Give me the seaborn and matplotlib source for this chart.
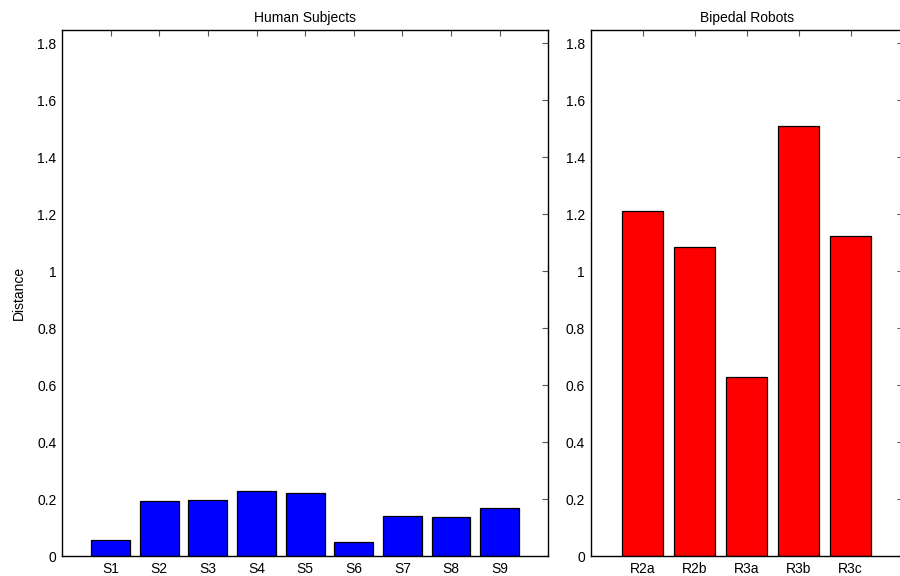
import numpy as np
import pandas as pd
import seaborn as sns
import matplotlib
matplotlib.use("Agg")
import matplotlib.pyplot as plt
from matplotlib.ticker import FuncFormatter

# data
humans = ["S1", "S2", "S3", "S4", "S5", "S6", "S7", "S8", "S9"]
human_dist = [0.056, 0.193, 0.196, 0.230, 0.222, 0.048, 0.141, 0.137, 0.167]

robots = ["R2a", "R2b", "R3a", "R3b", "R3c"]
robot_dist = [1.212, 1.084, 0.630, 1.510, 1.122]

yticks = [0, 0.2, 0.4, 0.6, 0.8, 1.0, 1.2, 1.4, 1.6, 1.8]

sns.set_style("white")
plt.rcParams['font.family'] = ['Liberation Sans', 'DejaVu Sans']
plt.rcParams['font.size'] = 10
plt.rcParams['text.color'] = 'black'
plt.rcParams['axes.labelcolor'] = 'black'
plt.rcParams['xtick.labelcolor'] = 'black'
plt.rcParams['ytick.labelcolor'] = 'black'

fig = plt.figure(figsize=(9, 5.76), dpi=100)
ax1 = fig.add_axes([0.0689, 0.0347, 0.5403, 0.9127])
ax2 = fig.add_axes([0.6563, 0.0347, 0.3467, 0.9127])

df1 = pd.DataFrame({"name": humans, "dist": human_dist})
df2 = pd.DataFrame({"name": robots, "dist": robot_dist})

sns.barplot(data=df1, x="name", y="dist", order=humans, color="#0000ff",
            saturation=1, edgecolor="black", linewidth=0.9, width=0.8, ax=ax1)
sns.barplot(data=df2, x="name", y="dist", order=robots, color="#ff0000",
            saturation=1, edgecolor="black", linewidth=0.9, width=0.8, ax=ax2)

fmt = FuncFormatter(lambda v, p: f"{v:g}")
for ax, n, title in [(ax1, len(humans), "Human Subjects"), (ax2, len(robots), "Bipedal Robots")]:
    ax.set_xlim(-1, n)
    ax.set_ylim(0, 1.846)
    ax.set_yticks(yticks)
    ax.yaxis.set_major_formatter(fmt)
    ax.set_xlabel("")
    ax.set_ylabel("")
    ax.set_title(title, fontsize=10, pad=6, color="black")
    ax.tick_params(direction="in", length=4, width=0.8, color="#555555",
                   top=True, right=True, labelsize=10, pad=4,
                   labelcolor="black")
    for s in ax.spines.values():
        s.set_visible(True)
        s.set_color("black")
        s.set_linewidth(1.0)

ax1.set_ylabel("Distance", fontsize=10, labelpad=8, color="black")

fig.savefig("out.png", dpi=100)
